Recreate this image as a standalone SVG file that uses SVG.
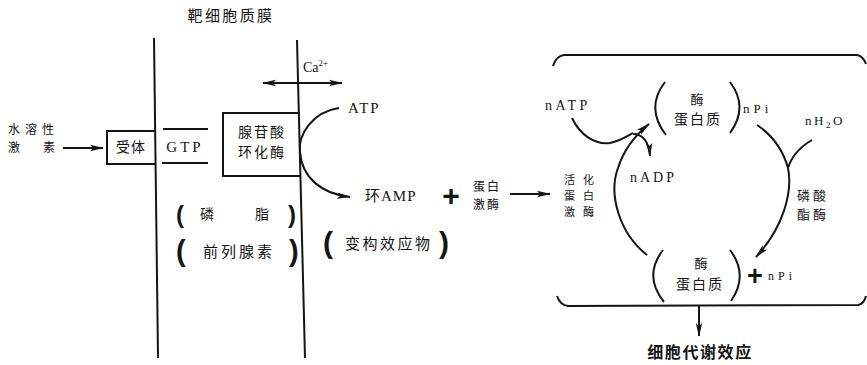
<svg xmlns="http://www.w3.org/2000/svg" width="867" height="365" viewBox="0 0 867 365">
<style>
.cj{font-family:"Noto Sans CJK SC","Noto Sans",sans-serif;fill:#151515}
.la{font-family:"Liberation Serif","DejaVu Serif",serif;fill:#151515}
.pa{font-family:"Liberation Sans",Arial,sans-serif;font-weight:bold;fill:#151515}
.ln{fill:none;stroke:#151515;stroke-width:2}
.bx{fill:none;stroke:#151515;stroke-width:2}
</style>
<defs>
<marker id="ah" viewBox="0 0 14 8" refX="13" refY="4" markerWidth="14" markerHeight="8" markerUnits="userSpaceOnUse" orient="auto-start-reverse">
<path d="M0,0.8 L14,4 L0,7.2 L3,4 Z" fill="#151515"/>
</marker>
</defs>
<rect width="867" height="365" fill="#fff"/>

<g id="membrane">
<text class="cj" x="231" y="21" font-size="15" text-anchor="middle" letter-spacing="2.4">靶细胞质膜</text>
<line class="ln" x1="154" y1="38" x2="158" y2="358"/>
<line class="ln" x1="297" y1="40" x2="305" y2="358"/>
</g>

<g id="hormone">
<text class="cj" x="8" y="134" font-size="12" letter-spacing="5">水溶性</text>
<text class="cj" x="8" y="152" font-size="12">激</text>
<text class="cj" x="43" y="152" font-size="12">素</text>
</g>

<g id="receptor">
<polyline class="bx" points="155,131 107,131 107,164 155,164"/>
<text class="cj" x="131" y="152" font-size="14" text-anchor="middle" letter-spacing="1">受体</text>
</g>

<g id="gtp">
<line class="ln" x1="163" y1="129" x2="208" y2="129"/>
<line class="ln" x1="162" y1="163" x2="208" y2="163"/>
<text class="la" x="185" y="152" font-size="15" text-anchor="middle" letter-spacing="3">GTP</text>
</g>

<g id="cyclase">
<polyline class="bx" points="300,113 223,113 223,176 301,176"/>
<text class="cj" x="262" y="136.5" font-size="14" text-anchor="middle" letter-spacing="2">腺苷酸</text>
<text class="cj" x="262" y="157" font-size="14" text-anchor="middle" letter-spacing="2">环化酶</text>
</g>

<g id="calcium">
<text class="la" x="303" y="72" font-size="14">Ca<tspan font-size="9" dy="-6">2+</tspan></text>
</g>

<g id="atp">
<text class="la" x="348" y="113" font-size="15" letter-spacing="2">ATP</text>
</g>

<g id="camp">
<text class="cj" x="365" y="201" font-size="15" letter-spacing="1">环<tspan class="la" font-size="15">AMP</tspan></text>
<text class="pa" x="451" y="206" font-size="30" text-anchor="middle" font-weight="normal">+</text>
</g>

<g id="kinase">
<text class="cj" x="487" y="191" font-size="12" text-anchor="middle" letter-spacing="2">蛋白</text>
<text class="cj" x="487" y="209" font-size="12" text-anchor="middle" letter-spacing="2">激酶</text>
</g>

<g id="phospholipid">
<text class="pa" x="176" y="223" font-size="24">(</text>
<text class="cj" x="207" y="219" font-size="14" text-anchor="middle">磷</text>
<text class="cj" x="262" y="219" font-size="14" text-anchor="middle">脂</text>
<text class="pa" x="288" y="223" font-size="24">)</text>
</g>

<g id="prostaglandin">
<text class="pa" x="176" y="261" font-size="29">(</text>
<text class="cj" x="203" y="256.5" font-size="15" letter-spacing="3">前列腺素</text>
<text class="pa" x="289" y="261" font-size="29">)</text>
</g>

<g id="effector">
<text class="pa" x="323" y="253" font-size="30">(</text>
<text class="cj" x="345" y="248.5" font-size="15" letter-spacing="2.5">变构效应物</text>
<text class="pa" x="439" y="253" font-size="30">)</text>
</g>

<g id="active-kinase">
<text class="cj" x="564" y="184" font-size="11" letter-spacing="8">活化</text>
<text class="cj" x="564" y="200" font-size="11" letter-spacing="8">蛋白</text>
<text class="cj" x="564" y="216" font-size="11" letter-spacing="8">激酶</text>
</g>

<g id="bracket">
<path class="ln" d="M553,66 Q556,56 564,55 L857,55 Q863,56 866,64"/>
<path class="ln" d="M557,296 Q560,305 568,306 L858,305 Q864,304 866,296"/>
</g>

<g id="enzyme-top">
<path class="ln" d="M665,82 Q645,108 666,135"/>
<path class="ln" d="M730,82 Q749,107 730,133"/>
<text class="cj" x="697" y="104" font-size="13" text-anchor="middle">酶</text>
<text class="cj" x="698" y="124" font-size="14" text-anchor="middle" letter-spacing="2">蛋白质</text>
<text class="la" x="743" y="113" font-size="13" letter-spacing="4">nPi</text>
</g>

<g id="enzyme-bottom">
<path class="ln" d="M663,250 Q643,276 664,302"/>
<path class="ln" d="M730,250 Q749,275 731,301"/>
<text class="cj" x="701" y="268" font-size="13" text-anchor="middle">酶</text>
<text class="cj" x="700" y="289" font-size="14" text-anchor="middle" letter-spacing="2">蛋白质</text>
<text class="pa" x="755" y="285" font-size="27" text-anchor="middle" font-weight="normal">+</text>
<text class="la" x="768" y="280" font-size="12" letter-spacing="4">nPi</text>
</g>

<g id="cycle-labels">
<text class="la" x="545" y="110" font-size="14" letter-spacing="3.5">nATP</text>
<text class="la" x="630" y="182" font-size="14" letter-spacing="3">nADP</text>
<text class="la" x="805" y="125" font-size="13" letter-spacing="2.5">nH<tspan font-size="9" dy="3">2</tspan><tspan dy="-3">O</tspan></text>
<text class="cj" x="797" y="200" font-size="13" letter-spacing="3">磷酸</text>
<text class="cj" x="797" y="219" font-size="13" letter-spacing="3">酯酶</text>
</g>

<g id="effect">
<text class="cj" x="700" y="358" font-size="16" font-weight="bold" text-anchor="middle" letter-spacing="1.6">细胞代谢效应</text>
</g>

<g id="connectors">
<line class="ln" x1="63" y1="148" x2="103" y2="148" marker-end="url(#ah)"/>
<line class="ln" x1="263" y1="83" x2="342" y2="83" marker-start="url(#ah)" marker-end="url(#ah)"/>
<path class="ln" d="M339,108 C312,112 298,135 300,152 C302,178 322,194 350,197" marker-end="url(#ah)"/>
<line class="ln" x1="510" y1="194" x2="550" y2="194" marker-end="url(#ah)"/>
<path class="ln" d="M647,255 C620,234 608,195 618,168 C623,152 632,138 649,124" marker-end="url(#ah)"/>
<path class="ln" d="M572,118 C580,135 595,145 610,143 C620,141 626,137 633,133"/>
<path class="ln" d="M633,134 C642,134 649,141 650,156" marker-end="url(#ah)"/>
<path class="ln" d="M757,125 C772,135 783,150 788,168 C793,192 783,228 756,257" marker-end="url(#ah)"/>
<path class="ln" d="M812,140 C800,147 792,155 788,168"/>
<line class="ln" x1="699" y1="306" x2="699" y2="336" marker-end="url(#ah)"/>
</g>
</svg>
